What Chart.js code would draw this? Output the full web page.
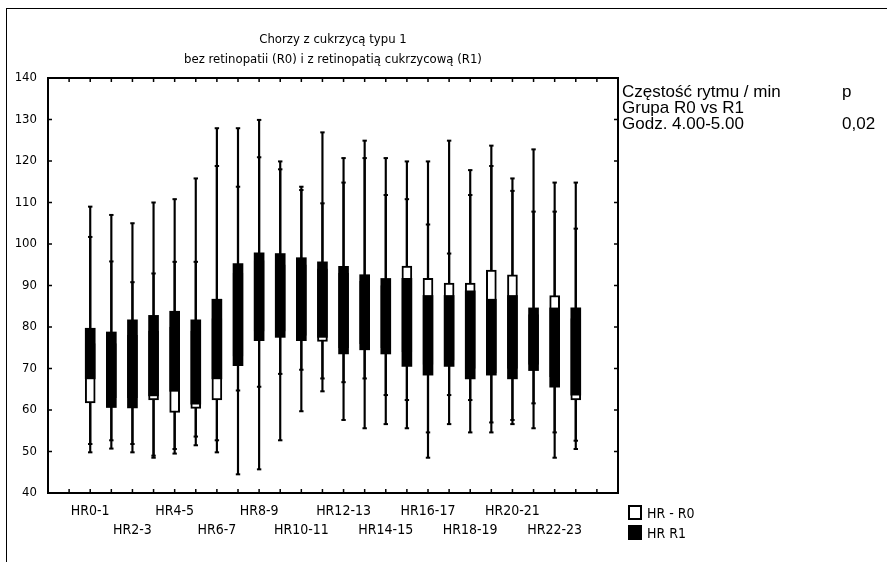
<!DOCTYPE html>
<html>
<head>
<meta charset="utf-8">
<script src="https://cdn.jsdelivr.net/npm/chart.js@4.4.0/dist/chart.umd.min.js"></script>
<style>
  body { margin: 0; background: #fff; }
  #wrap { position: relative; width: 887px; height: 562px; overflow: hidden; background: #fff; }
  #frame { position: absolute; left: 6px; top: 8px; width: 900px; height: 600px;
           border-top: 1.5px solid #000; border-left: 1.5px solid #000; }
  #chartBox { position: absolute; left: 0; top: 0; width: 887px; height: 562px; }
  .note { position: absolute; font: 17px 'Liberation Sans', Arial, sans-serif; color: #000; line-height: 16px; white-space: nowrap; }
  .leg { position: absolute; left: 628px; font: 14px 'Liberation Sans Narrow', 'DejaVu Sans Condensed', sans-serif; line-height: 16px; }
  .leg i { position: absolute; left: 0; top: 0; width: 14px; height: 15px; box-sizing: border-box; }
  .leg span { position: absolute; left: 19px; top: 0; white-space: nowrap; }
</style>
</head>
<body>
<div id="wrap">
  <div id="frame"></div>
  <div id="chartBox"><canvas id="hrChart"></canvas></div>
  <div class="note" style="left:622px; top:84px;">Częstość rytmu / min</div>
  <div class="note" style="left:842px; top:84px;">p</div>
  <div class="note" style="left:622px; top:100px;">Grupa R0 vs R1</div>
  <div class="note" style="left:622px; top:116px;">Godz. 4.00-5.00</div>
  <div class="note" style="left:842px; top:116px;">0,02</div>
  <div class="leg" style="top:505px;"><i style="border:2px solid #000; background:#fff;"></i><span>HR - R0</span></div>
  <div class="leg" style="top:525px;"><i style="background:#000;"></i><span>HR R1</span></div>
</div>
<script>
// tick labels, one for every second hour box
const tickLabels = ['HR0-1', 'HR2-3', 'HR4-5', 'HR6-7', 'HR8-9', 'HR10-11',
    'HR12-13', 'HR14-15', 'HR16-17', 'HR18-19', 'HR20-21', 'HR22-23'];

// R0 group (white boxes)
const r0Q1 = [61.7, 63, 63, 62.4, 59.4, 60.4, 62.4, 73, 79, 79, 78, 76.5,
    75, 76, 75, 74, 71, 72, 70, 69, 70, 71, 68, 62.4];
const r0Q3 = [76, 76, 78, 79, 80, 79, 82, 93, 96, 95, 95, 94,
    93, 91, 90, 94.7, 91.7, 90.6, 90.6, 93.7, 92.6, 83, 87.6, 82];
const r0Min = [49.8, 50.7, 49.8, 48.5, 49.5, 51.5, 49.8, 44.5, 45.7, 52.7, 59.7, 64.5,
    57.6, 55.6, 56.6, 55.6, 48.5, 56.6, 54.6, 54.6, 56.6, 55.6, 48.5, 50.6];
const r0Max = [109, 107, 105, 110, 110.8, 115.8, 127.9, 127.9, 129.9, 119.9, 113.8, 126.9,
    120.7, 124.9, 120.7, 119.9, 119.9, 124.9, 117.8, 123.7, 115.8, 122.8, 114.8, 114.8];

// R1 group (black boxes)
const r1Q1 = [67.5, 60.6, 60.5, 63.4, 64.5, 61.4, 67.5, 70.7, 76.7, 77.5, 76.7, 77.5,
    73.5, 74.5, 73.5, 70.5, 68.4, 70.5, 67.5, 68.4, 67.5, 69.5, 65.5, 63.6];
const r1Q3 = [79.7, 78.8, 81.7, 82.8, 83.8, 81.7, 86.7, 95.3, 97.9, 97.7, 96.7, 95.7,
    94.6, 92.6, 91.7, 91.7, 87.6, 87.6, 88.7, 86.7, 87.6, 84.6, 84.6, 84.6];
const r1Min = [51.8, 52.7, 51.8, 49, 50.6, 53.6, 52.7, 64.7, 65.6, 68.7, 69.7, 67.6,
    66.7, 67.6, 63.6, 62.4, 54.6, 63.6, 62.4, 57, 57.6, 61.6, 54.6, 52.6];
const r1Max = [101.7, 95.8, 90.8, 92.9, 95.7, 95.7, 118.8, 113.8, 120.9, 118, 113, 109.8,
    114.8, 120.7, 111.8, 110.8, 104.7, 97.7, 111.8, 118.8, 112.8, 107.8, 107.8, 103.7];

const narrow = "'Liberation Sans Narrow', 'DejaVu Sans Condensed', sans-serif";

const range = (lo, hi) => lo.map((v, i) => ({ x: i, y: [v, hi[i]] }));
const pts = arr => arr.map((v, i) => ({ x: i, y: v }));

// inner tick marks and frame, like the original plot
const frameTicks = {
    id: 'frameTicks',
    afterDatasetsDraw(chart) {
        const { ctx, chartArea: a, scales: { x, y } } = chart;
        ctx.save();
        ctx.strokeStyle = '#000';
        ctx.lineWidth = 1.5;
        ctx.beginPath();
        x.ticks.forEach(t => {
            if (t.value <= x.min || t.value >= x.max) return;
            const px = x.getPixelForValue(t.value);
            ctx.moveTo(px, a.top); ctx.lineTo(px, a.top + 4);
            ctx.moveTo(px, a.bottom); ctx.lineTo(px, a.bottom - 4);
        });
        y.ticks.forEach(t => {
            if (t.value <= y.min || t.value >= y.max) return;
            const py = y.getPixelForValue(t.value);
            ctx.moveTo(a.left, py); ctx.lineTo(a.left + 4, py);
            ctx.moveTo(a.right, py); ctx.lineTo(a.right - 4, py);
        });
        ctx.stroke();
        ctx.lineWidth = 2;
        ctx.strokeRect(a.left, a.top, a.right - a.left, a.bottom - a.top);
        ctx.restore();
    }
};

const ctx = document.getElementById('hrChart').getContext('2d');
new Chart(ctx, {
    type: 'bar',
    data: {
        datasets: [
            { label: 'HR R1', data: range(r1Q1, r1Q3), backgroundColor: '#000',
              borderWidth: 0, barThickness: 10, grouped: false, order: 0 },
            { label: 'HR - R0', data: range(r0Q1, r0Q3), backgroundColor: '#fff',
              borderColor: '#000', borderWidth: 2, borderSkipped: false,
              barThickness: 10, grouped: false, order: 1 },
            { data: range(r0Min, r0Max), backgroundColor: '#000', borderWidth: 0,
              barThickness: 1.5, grouped: false, order: 2 },
            { data: range(r1Min, r1Max), backgroundColor: '#000', borderWidth: 0,
              barThickness: 1.5, grouped: false, order: 2 },
            { type: 'scatter', data: pts(r0Min).concat(pts(r0Max)), pointStyle: 'line',
              pointRadius: 2.2, borderColor: '#000', borderWidth: 2, order: 3 },
            { type: 'scatter', data: pts(r1Min).concat(pts(r1Max)), pointStyle: 'line',
              pointRadius: 2.2, borderColor: '#000', borderWidth: 2, order: 3 }
        ]
    },
    options: {
        responsive: true,
        maintainAspectRatio: false,
        animation: false,
        layout: { padding: { left: 0, right: 269, top: 0, bottom: 0 } },
        plugins: {
            legend: { display: false },
            tooltip: { enabled: false },
            title: {
                display: true,
                fullSize: false,
                text: ['Chorzy z cukrzycą typu 1', 'bez retinopatii (R0) i z retinopatią cukrzycową (R1)'],
                color: '#000',
                font: { family: narrow, size: 13, weight: 'normal', lineHeight: 20 / 13 },
                padding: { top: 30, bottom: 8 }
            }
        },
        scales: {
            x: {
                type: 'linear',
                min: -2,
                max: 25,
                offset: false,
                grid: { display: false, drawTicks: false },
                border: { display: false },
                afterFit: s => { s.height = 69; },
                ticks: {
                    stepSize: 1,
                    autoSkip: false,
                    maxRotation: 0,
                    padding: 9,
                    color: '#000',
                    font: { family: narrow, size: 14, lineHeight: 19 / 14 },
                    callback: v => {
                        if (v < 0 || v % 2 !== 0 || v / 2 >= tickLabels.length) return '';
                        const k = v / 2;
                        return k % 2 === 0 ? [tickLabels[k], ''] : ['', tickLabels[k]];
                    }
                }
            },
            y: {
                min: 40,
                max: 140,
                grid: { display: false, drawTicks: false },
                border: { display: false },
                afterFit: s => { s.width = 48; },
                ticks: {
                    stepSize: 10,
                    padding: 11,
                    color: '#000',
                    font: { family: narrow, size: 13 }
                }
            }
        }
    },
    plugins: [frameTicks]
});
</script>
</body>
</html>
